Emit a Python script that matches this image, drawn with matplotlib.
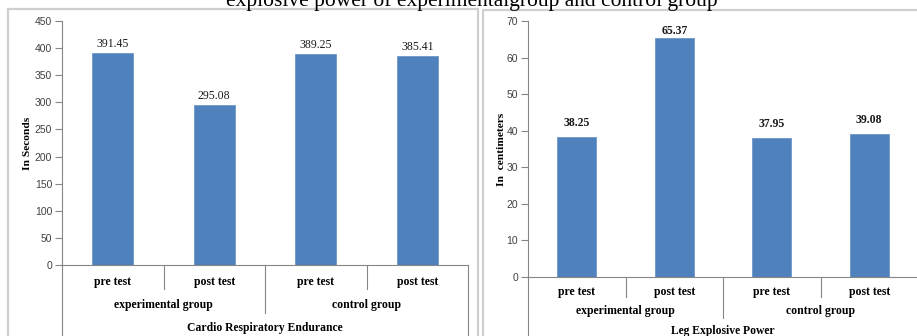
import matplotlib
matplotlib.use("Agg")
import matplotlib.pyplot as plt
from matplotlib.patches import Rectangle

# Data
categories = ["pre test", "post test", "pre test", "post test"]
groups = ["experimental group", "control group"]
cre_values = [391.45, 295.08, 389.25, 385.41]
lep_values = [38.25, 65.37, 37.95, 39.08]

W, H = 917, 336
BAR = "#4F81BD"
AXIS = "#868686"
FRAME = "#CFCFCF"
SERIF = "Liberation Serif"
SANS = "Liberation Sans"

fig = plt.figure(figsize=(W / 100, H / 100), dpi=100)


def px_frac(ax, px):
    # pixels below the x axis -> axes fraction
    return -px / (ax.get_position().height * H)


def bar_panel(ax, values, ymax, ystep, ylabel, ylabel_x, title, label_bold, label_pad,
              cat_y, grp_y, title_y, sep_short, sep_grp):
    x = range(len(values))
    ax.bar(x, values, width=0.4, color=BAR, edgecolor="#6E97CB", linewidth=0.6, zorder=2)
    ax.set_xlim(-0.5, len(values) - 0.5)
    ax.set_ylim(0, ymax)
    ax.set_yticks(range(0, ymax + 1, ystep))
    ax.set_xticks([])
    for s in ["top", "right"]:
        ax.spines[s].set_visible(False)
    for s in ["left", "bottom"]:
        ax.spines[s].set_color(AXIS)
        ax.spines[s].set_linewidth(0.8)
    ax.tick_params(axis="y", direction="out", length=5, width=0.8, color=AXIS,
                   labelsize=7.5, labelcolor="#404040", pad=2)
    for lab in ax.get_yticklabels():
        lab.set_fontfamily(SANS)
    ax.set_ylabel(ylabel, fontfamily=SERIF, fontweight="bold", fontsize=8.2, va="center")
    ax.yaxis.set_label_coords(ylabel_x / (ax.get_position().width * W), 0.5)

    for i, v in enumerate(values):
        ax.annotate(f"{v:.2f}", (i, v), xytext=(0, label_pad[i]), textcoords="offset points",
                    ha="center", va="bottom", fontfamily=SERIF, fontsize=8.5,
                    fontweight="bold" if label_bold else "normal", color="#1a1a1a")

    tr = ax.get_xaxis_transform()
    # category table under the axis
    for xs, depth in [(0.5, sep_short), (2.5, sep_short), (1.5, sep_grp),
                      (-0.5, 120), (len(values) - 0.5, 120)]:
        ax.plot([xs, xs], [0, px_frac(ax, depth)], transform=tr, color=AXIS,
                lw=0.8, clip_on=False)
    for i, c in enumerate(categories):
        ax.text(i, px_frac(ax, cat_y), c, transform=tr, ha="center", va="center",
                fontfamily=SERIF, fontweight="bold", fontsize=8.5)
    for j, g in enumerate(groups):
        ax.text(0.5 + 2 * j, px_frac(ax, grp_y), g, transform=tr, ha="center", va="center",
                fontfamily=SERIF, fontweight="bold", fontsize=8.5)
    ax.text(1.5, px_frac(ax, title_y), title, transform=tr, ha="center", va="center",
            fontfamily=SERIF, fontweight="bold", fontsize=8.4)


# chart frames
fig.add_artist(Rectangle((8 / W, -0.1), (478 - 8) / W, (H - 9) / H + 0.1,
                         transform=fig.transFigure, fill=False, edgecolor=FRAME, lw=1.6))
fig.add_artist(Rectangle((483 / W, -0.1), 0.6, (H - 10) / H + 0.1,
                         transform=fig.transFigure, fill=False, edgecolor=FRAME, lw=1.6))

ax1 = fig.add_axes([62 / W, (H - 265) / H, (468 - 62) / W, (265 - 21) / H])
bar_panel(ax1, cre_values, 450, 50, "In Seconds", 27 - 62, "Cardio Respiratory Endurance",
          False, [2, 2, 2, 2], 17, 40, 63, 24, 48)

ax2 = fig.add_axes([528 / W, (H - 277) / H, (918 - 528) / W, (277 - 21) / H])
bar_panel(ax2, lep_values, 70, 10, "In  centimeters", 502 - 528, "Leg Explosive Power",
          True, [6, 1, 6, 6], 15, 34, 54, 20, 41)

# figure caption running off the top edge
fig.text(472 / W, 1 - 6 / H, "explosive power of experimentalgroup and control group",
         ha="center", va="baseline", fontfamily=SERIF, fontsize=15.5, color="black")

fig.savefig("out.png", dpi=100)
